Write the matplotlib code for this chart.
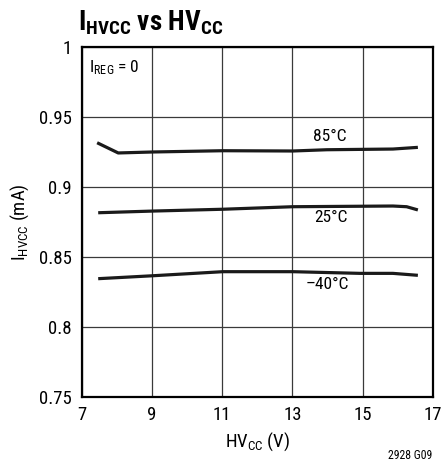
import matplotlib
matplotlib.use('Agg')
from matplotlib import pyplot as plt

plt.rcParams['font.family'] = ['Roboto Condensed', 'Archivo Narrow', 'DejaVu Sans']
plt.rcParams['mathtext.fontset'] = 'custom'
plt.rcParams['mathtext.rm'] = 'Roboto Condensed'

# 曲线数据 (HVcc V, Ihvcc mA)
v85 = [7.44, 8.04, 9.03, 11.02, 13.01, 13.98, 15.86, 16.57]
i85 = [0.9314, 0.9241, 0.9248, 0.9257, 0.9255, 0.9264, 0.9269, 0.9281]
v25 = [7.47, 9.03, 11.02, 13.01, 15.86, 16.25, 16.57]
i25 = [0.8814, 0.8826, 0.8839, 0.8857, 0.8862, 0.8857, 0.8834]
vm40 = [7.47, 9.03, 11.02, 13.01, 14.92, 15.86, 16.57]
im40 = [0.8343, 0.8364, 0.8393, 0.8393, 0.8381, 0.8381, 0.8367]

xticks = [7, 9, 11, 13, 15, 17]
yticks = [0.75, 0.8, 0.85, 0.9, 0.95, 1.0]
ytick_labels = ['0.75', '0.8', '0.85', '0.9', '0.95', '1']

fig = plt.figure(figsize=(4.42, 4.66), dpi=100)
ax = fig.add_axes([0.1848, 0.1487, 0.7948, 0.7511])

for v, i in [(v85, i85), (v25, i25), (vm40, im40)]:
    ax.plot(v, i, color='#1a1a1a', lw=2.3, solid_capstyle='butt', zorder=3)

ax.set_xlim(7, 17)
ax.set_ylim(0.75, 1.0)
ax.set_xticks(xticks)
ax.set_yticks(yticks)
ax.set_yticklabels(ytick_labels)
ax.tick_params(length=0, labelsize=13.5, pad=7)
ax.grid(True, color='#3a3a3a', lw=0.9)
ax.set_axisbelow(True)
for s in ax.spines.values():
    s.set_linewidth(1.6)

ax.text(14.07, 0.9355, '85°C', fontsize=12.5, ha='center', va='center')
ax.text(14.1, 0.878, '25°C', fontsize=12.5, ha='center', va='center')
ax.text(13.98, 0.8305, '–40°C', fontsize=12.5, ha='center', va='center')
ax.text(7.2, 0.985, r'$\mathregular{I_{REG}}$ = 0', fontsize=12.5, ha='left', va='center',
        bbox=dict(facecolor='white', edgecolor='none', pad=1.5), zorder=4)

ax.set_xlabel(r'$\mathregular{HV_{CC}}$ (V)', fontsize=13.5, labelpad=4)
ax.set_ylabel(r'$\mathregular{I_{HVCC}}$ (mA)', fontsize=13.5, labelpad=6)

fig.text(0.176, 0.952, r'$\mathregular{I_{HVCC}}$ vs $\mathregular{HV_{CC}}$', fontsize=19.5,
         fontweight='bold', ha='left', va='center')
fig.text(0.979, 0.008, '2928 G09', fontsize=8.5, ha='right', va='bottom')

fig.savefig('out.png', dpi=100)
